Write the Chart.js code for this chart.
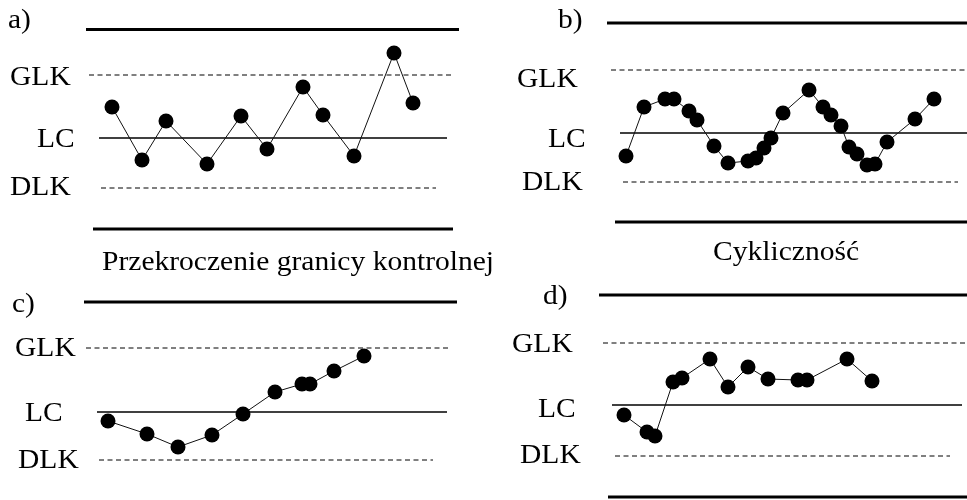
<!DOCTYPE html>
<html>
<head>
<meta charset="utf-8">
<script src="https://cdn.jsdelivr.net/npm/chart.js@4"></script>
<style>
body{margin:0;background:#fff;width:967px;height:500px;position:relative;overflow:hidden;font-family:"Liberation Serif","Times New Roman",serif;}
canvas{position:absolute;}
.t{position:absolute;font-size:28px;line-height:1;color:#000;white-space:nowrap;transform-origin:0 50%;transform:scaleX(1.055);}
</style>
</head>
<body>
<script>
// data: x = sample time, y = deviation from the centre line (LC)
const limitNames = ['GLK', 'LC', 'DLK'];
const panelNames = ['a)', 'b)', 'c)', 'd)'];
const titles = ['Przekroczenie granicy kontrolnej', 'Cykliczność'];

const aX = [2.6, 5.6, 8.0, 12.1, 15.5, 18.1, 21.7, 23.7, 26.8, 30.8, 32.7];
const aY = [3.1, -2.2, 1.7, -2.6, 2.2, -1.1, 5.1, 2.3, -1.8, 8.5, 3.5];
const aLimits = [6.3, 0, -5.0];
const aFrame = [10.85, -9.1];

const bX = [1.9, 3.7, 5.8, 6.7, 8.2, 9.0, 10.7, 12.1, 14.1, 14.9, 15.7, 16.4, 17.6, 20.2, 21.6, 22.4, 23.4, 24.2, 25.0, 26.0, 26.8, 28.0, 30.8, 32.7];
const bY = [-2.3, 2.6, 3.4, 3.4, 2.2, 1.3, -1.3, -3.0, -2.8, -2.5, -1.5, -0.5, 2.0, 4.3, 2.6, 1.8, 0.7, -1.4, -2.1, -3.2, -3.1, -0.9, 1.4, 3.4];
const bLimits = [6.3, 0, -4.9];
const bFrame = [11.0, -8.9];

const cX = [2.4, 6.3, 9.4, 12.8, 15.9, 19.1, 21.8, 22.6, 25.0, 28.0];
const cY = [-0.9, -2.2, -3.5, -2.3, -0.2, 2.0, 2.8, 2.8, 4.1, 5.6];
const cLimits = [6.4, 0, -4.8];
const cFrame = [11.0, null];

const dX = [2.5, 4.8, 5.6, 7.4, 8.3, 11.1, 12.9, 14.9, 16.9, 19.9, 20.8, 24.8, 27.3];
const dY = [-1.0, -2.7, -3.1, 2.3, 2.7, 4.6, 1.8, 3.8, 2.6, 2.5, 2.5, 4.6, 2.4];
const dLimits = [6.2, 0, -5.1];
const dFrame = [11.0, -9.2];

// layout (pixels) and line extents (x units)
const panels = [
  {xs: aX, ys: aY, lim: aLimits, frame: aFrame, left: 0, top: 0, w: 480, h: 250, x0: 86, lc: 138,
   ext: {top: [0, 37.3], bottom: [0.7, 36.7], lines: [[0.3, 36.6], [1.3, 36.1], [1.5, 35.0]]},
   name: [8, 5], labels: [[10, 62], [37, 124], [10, 172]]},
  {xs: bX, ys: bY, lim: bLimits, frame: bFrame, left: 480, top: 0, w: 487, h: 250, x0: 607, lc: 133,
   ext: {top: [0, 36], bottom: [0.8, 36], lines: [[0.4, 36], [1.3, 36], [1.6, 35.1]]},
   name: [558, 5], labels: [[517, 64], [548, 124], [522, 167]]},
  {xs: cX, ys: cY, lim: cLimits, frame: cFrame, left: 0, top: 250, w: 480, h: 250, x0: 84, lc: 412,
   ext: {top: [0, 37.3], bottom: null, lines: [[0.2, 36.7], [1.3, 36.3], [1.5, 34.9]]},
   name: [12, 289], labels: [[15, 333], [25, 398], [18, 445]]},
  {xs: dX, ys: dY, lim: dLimits, frame: dFrame, left: 480, top: 250, w: 487, h: 250, x0: 599, lc: 405,
   ext: {top: [0, 36.8], bottom: [0.9, 36.8], lines: [[0.4, 36.8], [1.3, 36.3], [1.6, 35.1]]},
   name: [543, 281], labels: [[512, 329], [538, 394], [520, 440]]}
];

function addText(str, left, top) {
  const d = document.createElement('div');
  d.className = 't';
  d.textContent = str;
  d.style.left = left + 'px';
  d.style.top = top + 'px';
  document.body.appendChild(d);
}

function seg(x, y) {
  return [{x: x[0], y: y}, {x: x[1], y: y}];
}

panels.forEach((p, k) => {
  const cv = document.createElement('canvas');
  cv.width = p.w; cv.height = p.h;
  cv.style.left = p.left + 'px';
  cv.style.top = p.top + 'px';
  document.body.appendChild(cv);

  const datasets = [{
    data: p.xs.map((x, i) => ({x: x, y: p.ys[i]})),
    borderColor: '#111', borderWidth: 1,
    pointRadius: 7.5, pointBorderWidth: 0, pointBackgroundColor: '#000'
  }];
  p.lim.forEach((v, i) => {
    datasets.push({
      data: seg(p.ext.lines[i], v),
      borderColor: '#000', borderWidth: i == 1 ? 1.4 : 1,
      borderDash: i == 1 ? [] : [5, 3.5], pointRadius: 0
    });
  });
  datasets.push({data: seg(p.ext.top, p.frame[0]), borderColor: '#000', borderWidth: 3, pointRadius: 0});
  if (p.ext.bottom) {
    datasets.push({data: seg(p.ext.bottom, p.frame[1]), borderColor: '#000', borderWidth: 3, pointRadius: 0});
  }

  new Chart(cv, {
    type: 'line',
    data: {datasets: datasets},
    options: {
      responsive: false,
      animation: false,
      events: [],
      layout: {padding: 0, autoPadding: false},
      datasets: {line: {clip: false, tension: 0}},
      plugins: {legend: {display: false}, tooltip: {enabled: false}},
      scales: {
        x: {type: 'linear', display: false, min: (p.left - p.x0) / 10, max: (p.left + p.w - p.x0) / 10},
        y: {type: 'linear', display: false, min: (p.lc - p.top - p.h) / 10, max: (p.lc - p.top) / 10}
      }
    }
  });

  addText(panelNames[k], p.name[0], p.name[1]);
  limitNames.forEach((n, i) => addText(n, p.labels[i][0], p.labels[i][1]));
});

addText(titles[0], 102, 247);
addText(titles[1], 713, 237);
</script>
</body>
</html>
